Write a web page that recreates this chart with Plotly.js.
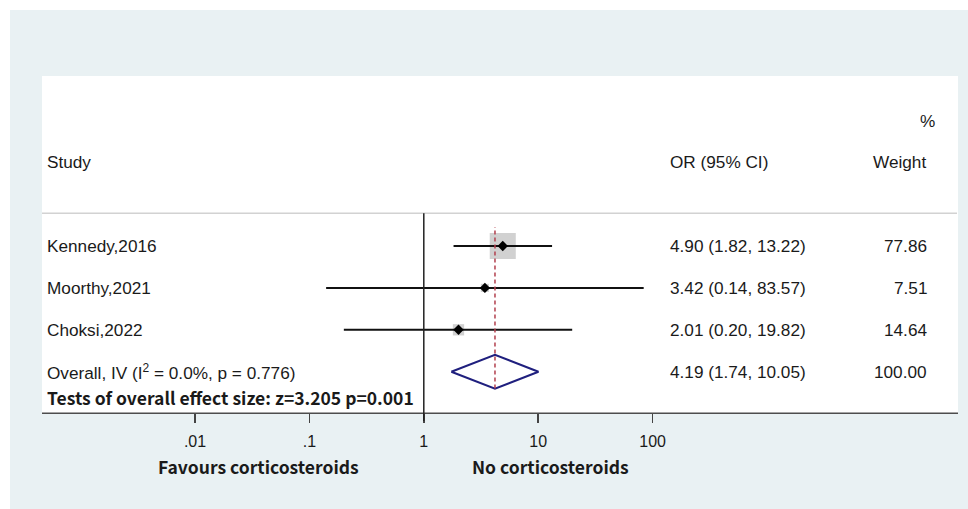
<!DOCTYPE html>
<html><head><meta charset="utf-8">
<script src="https://cdn.plot.ly/plotly-3.0.1.min.js"></script>
<style>html,body{margin:0;padding:0;background:#fff}#chart{width:968px;height:509px}</style>
</head><body><div id="chart"></div>
<script>
// ---- data ----
const studies = ['Kennedy,2016', 'Moorthy,2021', 'Choksi,2022'];
const orValues = [4.90, 3.42, 2.01];
const ciLow = [1.82, 0.14, 0.20];
const ciHigh = [13.22, 83.57, 19.82];
const weights = [77.86, 7.51, 14.64];
const overallLabel = 'Overall, IV (I<sup>2</sup> = 0.0%, p = 0.776)';
const overallOR = [4.19];
const overallLow = [1.74];
const overallHigh = [10.05];
const overallWeight = [100.00];
const testText = 'Tests of overall effect size: z=3.205 p=0.001';
const tickValues = [0.01, 0.1, 1, 10, 100];
const tickLabels = ['.01', '.1', '1', '10', '100'];
const leftLabel = 'Favours corticosteroids';
const rightLabel = 'No corticosteroids';
const headers = {study: 'Study', ci: 'OR (95% CI)', pct: '%', weight: 'Weight'};

// ---- layout helpers ----
const W = 968, H = 509;
const px = x => x / W;
const py = y => 1 - y / H;
const X1 = 423.8, DEC = 114.4;      // pixel of OR=1, pixels per decade
const ROW0 = 246, ROWH = 41.9;       // pixel of first row, pixels per row
const rows = studies.map((_, i) => i);
const overallRow = studies.length;
const fmt = v => v.toFixed(2);

const txtFont = {family: 'Arial', size: 17.2, color: '#1a1a1a'};
const boldFont = {family: 'Noto Sans CJK SC', size: 17.5, color: '#1a1a1a', weight: 'bold'};

// ---- traces ----
const ciX = [], ciY = [];
rows.forEach(i => { ciX.push(ciLow[i], ciHigh[i], null); ciY.push(i, i, null); });

const traces = [
  {type: 'scatter', mode: 'markers', x: orValues, y: rows, hoverinfo: 'skip',
   marker: {symbol: 'square', size: weights.map(w => 2.95 * Math.sqrt(w)), color: '#bdbdbd', line: {width: 0}}},
  {type: 'scatter', mode: 'lines', x: ciX, y: ciY, hoverinfo: 'skip',
   line: {color: '#111', width: 2}},
  {type: 'scatter', mode: 'markers', x: orValues, y: rows, hoverinfo: 'skip',
   marker: {symbol: 'diamond', size: 8, color: '#000', line: {width: 0}}},
  {type: 'scatter', mode: 'lines', hoverinfo: 'skip',
   x: [overallLow[0], overallOR[0], overallHigh[0], overallOR[0], overallLow[0]],
   y: [overallRow, overallRow - 0.405, overallRow, overallRow + 0.405, overallRow],
   line: {color: '#1f1f7e', width: 2}}
];

// ---- annotations ----
const ann = [];
const add = (text, x, y, xanchor, font, yref) => ann.push({text, x, y, xref: 'paper', yref: yref || 'paper',
  xanchor, yanchor: 'middle', showarrow: false, font});
add(headers.pct, px(936.5), py(120.7), 'right', txtFont);
add(headers.study, px(45), py(161.7), 'left', txtFont);
add(headers.ci, px(667.5), py(161.7), 'left', txtFont);
add(headers.weight, px(927.5), py(161.7), 'right', txtFont);
rows.forEach(i => {
  add(studies[i], px(45), i, 'left', txtFont, 'y');
  add(fmt(orValues[i]) + ' (' + fmt(ciLow[i]) + ', ' + fmt(ciHigh[i]) + ')', px(667.5), i, 'left', txtFont, 'y');
  add(fmt(weights[i]), px(929), i, 'right', txtFont, 'y');
});
add(overallLabel, px(45), overallRow, 'left', txtFont, 'y');
add(fmt(overallOR[0]) + ' (' + fmt(overallLow[0]) + ', ' + fmt(overallHigh[0]) + ')', px(667.5), overallRow, 'left', txtFont, 'y');
add(fmt(overallWeight[0]), px(929), overallRow, 'right', txtFont, 'y');
add(testText, px(45), py(397.7), 'left', boldFont);
add(leftLabel, px(258), py(466.7), 'center', boldFont);
add(rightLabel, px(550), py(466.7), 'center', boldFont);

// ---- shapes ----
const shapes = [
  {type: 'rect', xref: 'paper', yref: 'paper', x0: px(10), x1: 1, y0: 0, y1: py(10),
   fillcolor: '#e9f1f3', line: {width: 0}, layer: 'below'},
  {type: 'rect', xref: 'paper', yref: 'paper', x0: px(42), x1: px(958), y0: py(413), y1: py(76),
   fillcolor: '#ffffff', line: {width: 0}, layer: 'below'},
  {type: 'line', xref: 'paper', yref: 'paper', x0: px(42), x1: px(957), y0: py(213.3), y1: py(213.3),
   line: {color: '#d2d2d2', width: 1.5}},
  {type: 'line', xref: 'paper', yref: 'paper', x0: px(42), x1: px(958), y0: py(413.3), y1: py(413.3),
   line: {color: '#4d4d4d', width: 1.5}},
  {type: 'line', xref: 'x', yref: 'paper', x0: 1, x1: 1, y0: py(421), y1: py(213.3),
   line: {color: '#222', width: 1.5}},
  {type: 'line', xref: 'x', yref: 'paper', x0: overallOR[0], x1: overallOR[0], y0: py(388.5), y1: py(227),
   line: {color: '#b2404e', width: 1.5, dash: '4px,3px'}}
];

const layout = {
  width: W, height: H, margin: {l: 0, r: 0, t: 0, b: 0},
  paper_bgcolor: '#ffffff', plot_bgcolor: 'rgba(0,0,0,0)', showlegend: false,
  xaxis: {type: 'log', range: [(0 - X1) / DEC, (W - X1) / DEC], domain: [0, 1],
    anchor: 'free', position: py(413.3), showline: false, showgrid: false, zeroline: false,
    tickvals: tickValues, ticktext: tickLabels, ticks: 'outside', ticklen: 9, tickwidth: 1.5, tickcolor: '#444',
    tickfont: {family: 'Arial', size: 16, color: '#1a1a1a'}, ticklabelstandoff: 4, fixedrange: true},
  yaxis: {range: [(H - ROW0) / ROWH, (0 - ROW0) / ROWH], domain: [0, 1], visible: false, fixedrange: true},
  shapes, annotations: ann
};
Plotly.newPlot('chart', traces, layout, {displayModeBar: false, staticPlot: true});
</script></body></html>
